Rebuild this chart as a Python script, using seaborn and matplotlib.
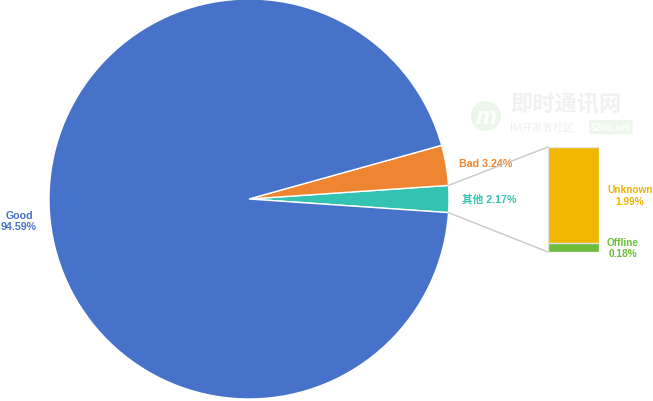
import numpy as np
import pandas as pd
import matplotlib
matplotlib.use('Agg')
import matplotlib.pyplot as plt
from matplotlib.patches import ConnectionPatch
import seaborn as sns

sns.set_theme(style='white')
plt.rcParams['font.family'] = ['Liberation Sans', 'Noto Sans CJK SC', 'DejaVu Sans']

# pie data (counter-clockwise, starting with the split slice)
pie_labels = ['其他', 'Bad', 'Good']
pie_values = [2.17, 3.24, 94.59]
pie_colors = ['#34c3b3', '#ee8531', '#4673c9']

# breakdown of the "其他" slice
bar_labels = ['Unknown', 'Offline']
bar_values = [1.99, 0.18]
bar_colors = ['#f2b705', '#6cbd3c']

W, H = 653, 402
fig = plt.figure(figsize=(W / 100, H / 100), dpi=100)
fig.patch.set_facecolor('white')

##############################################################################
# watermark (drawn first so it sits behind everything)
##############################################################################
fig.text(486 / W, 1 - 117 / H, 'm', fontsize=17, fontstyle='italic',
         fontweight='bold', color='white', ha='center', va='center',
         bbox=dict(boxstyle='circle,pad=0.15', fc='#edf6ea', ec='none'))
fig.text(510 / W, 1 - 106 / H, '即时通讯网', fontsize=16, fontweight='bold',
         color='#f1f1f1', ha='left', va='center')
fig.text(510 / W, 1 - 128 / H, 'IM开发者社区', fontsize=7.5,
         color='#efefef', ha='left', va='center')
fig.text(591 / W, 1 - 128 / H, '52im.net', fontsize=7, fontweight='bold',
         color='white', ha='left', va='center',
         bbox=dict(boxstyle='round,pad=0.2', fc='#edf6ea', ec='none'))

##############################################################################
# pie
##############################################################################
ax1 = fig.add_axes([49 / W, 2 / H, 400 / W, 400 / H])
ax1.patch.set_alpha(0)
start = -360 * pie_values[0] / 100 / 2
texts = [
    '其他 %.2f%%' % pie_values[0],
    'Bad %.2f%%' % pie_values[1],
    'Good\n%.2f%%' % pie_values[2],
]
wedges, labels = ax1.pie(
    pie_values, labels=texts, colors=pie_colors, startangle=start,
    counterclock=True, labeldistance=1.065, radius=1,
    wedgeprops=dict(edgecolor='white', linewidth=1),
    textprops=dict(fontsize=7.7, fontweight='bold'),
)
for t, c in zip(labels, pie_colors):
    t.set_color(c)
    t.set_multialignment('center')
ax1.set_xlim(-1, 1)
ax1.set_ylim(-1, 1)
ax1.set_aspect('equal')
ax1.axis('off')

##############################################################################
# stacked bar for "其他"
##############################################################################
ax2 = fig.add_axes([548 / W, 149 / H, 51 / W, 105 / H])
total = sum(bar_values)
df_top = pd.DataFrame({'x': ['其他'], 'y': [total]})
df_bot = pd.DataFrame({'x': ['其他'], 'y': [bar_values[1]]})
sns.barplot(data=df_top, x='x', y='y', color=bar_colors[0], width=1,
            saturation=1, edgecolor='#e2e2e2', linewidth=1, ax=ax2)
sns.barplot(data=df_bot, x='x', y='y', color=bar_colors[1], width=1,
            saturation=1, edgecolor='#e2e2e2', linewidth=1, ax=ax2)
ax2.set_xlim(-0.5, 0.5)
ax2.set_ylim(0, total)
ax2.axis('off')

bottoms = [bar_values[1], 0]
for lab, val, b, c in zip(bar_labels, bar_values, bottoms, ['#f0b400', '#6cbd3c']):
    ax2.text(0.655, b + val / 2, '%s\n%.2f%%' % (lab, val), color=c,
             fontsize=7.3, fontweight='bold', ha='left', va='center',
             multialignment='center')

# connector lines
theta1 = np.deg2rad(start)
theta2 = np.deg2rad(start + 360 * pie_values[0] / 100)
for theta, yb in [(theta2, total), (theta1, 0)]:
    con = ConnectionPatch(xyA=(-0.5, yb), coordsA=ax2.transData,
                          xyB=(np.cos(theta), np.sin(theta)), coordsB=ax1.transData,
                          color='#c8c8c8', linewidth=1)
    fig.add_artist(con)

fig.savefig('out.png', dpi=100, facecolor='white')
